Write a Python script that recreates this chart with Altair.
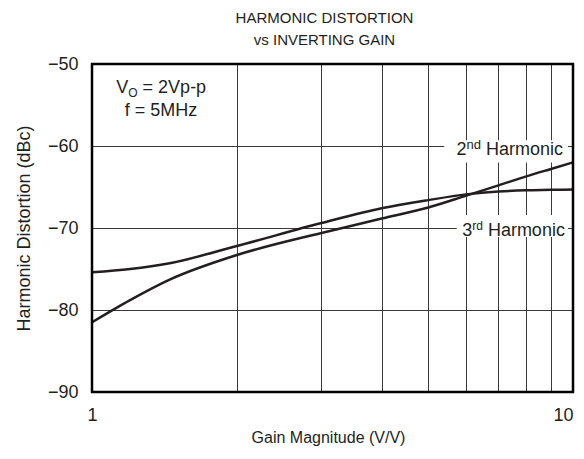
import altair as alt
import pandas as pd

# ---- data ----
gain = [1, 1.2, 1.45, 2, 3, 4, 5, 6, 7, 8, 9, 10]
second_harmonic = [-81.5, -78.8, -76.3, -73.3, -70.6, -68.85, -67.5, -66.05, -64.8, -63.7, -62.8, -62.0]
third_harmonic = [-75.4, -75.0, -74.3, -72.2, -69.4, -67.6, -66.6, -65.9, -65.55, -65.4, -65.35, -65.3]

x_ticks = [1, 2, 3, 4, 5, 6, 7, 8, 9, 10]
y_ticks = [-90, -80, -70, -60, -50]
title_lines = ["HARMONIC DISTORTION", "vs INVERTING GAIN"]
x_title = "Gain Magnitude (V/V)"
y_title = "Harmonic Distortion (dBc)"

FONT = "Liberation Sans"
FS = 18
SUB = 12
INK = "#231f20"

curves = pd.DataFrame({
    "g": gain * 2,
    "db": second_harmonic + third_harmonic,
    "series": ["2nd"] * len(gain) + ["3rd"] * len(gain),
})

xs = alt.Scale(type="log", domain=[1, 10], nice=False)
ys = alt.Scale(domain=[-90, -50], nice=False, zero=False)

x_axis = alt.Axis(
    values=x_ticks, grid=True, title=x_title, titleFontSize=16, titleX=236,
    labelExpr="(datum.value == 1 || datum.value == 10) ? '' + datum.value : ''",
    labelOffset={"condition": {"test": "datum.value == 10", "value": -10}, "value": 0},
    labelPadding=14, titlePadding=5, labelFlush=False)
y_axis = alt.Axis(
    values=y_ticks, grid=True, title=y_title,
    labelExpr="datum.value < 0 ? '\u2212' + abs(datum.value) : '' + datum.value",
    labelPadding=14, titlePadding=14)

X = alt.X("g:Q", scale=xs, axis=x_axis)
Y = alt.Y("db:Q", scale=ys, axis=y_axis)

lines = alt.Chart(curves).mark_line(color=INK, strokeWidth=2.5, interpolate="monotone").encode(
    x=X, y=Y, detail="series:N",
)

# white boxes behind the curve labels (they break the grid lines)
boxes = pd.DataFrame({
    "g": [5.4, 5.73], "g2": [9.76, 9.76],
    "db": [-59.3, -68.4], "db2": [-62.0, -71.1],
})
box_layer = alt.Chart(boxes).mark_rect(fill="white").encode(
    x=X, x2="g2:Q", y=Y, y2="db2:Q",
)

def txt(df, **kw):
    return alt.Chart(df).mark_text(font=FONT, color=INK, baseline="middle", **kw).encode(
        x=X, y=Y, text="t:N",
    )

# curve labels (right aligned pieces)
lab_main = pd.DataFrame({"g": [9.53, 9.62], "db": [-60.5, -70.4], "t": ["Harmonic", "Harmonic"]})
lab_2 = pd.DataFrame({"g": [9.53], "db": [-60.5], "t": ["nd"]})
lab_2n = pd.DataFrame({"g": [9.53], "db": [-60.5], "t": ["2"]})
lab_3 = pd.DataFrame({"g": [9.62], "db": [-70.4], "t": ["rd"]})
lab_3n = pd.DataFrame({"g": [9.62], "db": [-70.4], "t": ["3"]})

cond_pt = {"g": [1.392], "db": [-52.93]}
cond_v = pd.DataFrame({**cond_pt, "t": ["V"]})
cond_o = pd.DataFrame({**cond_pt, "t": ["O"]})
cond_r = pd.DataFrame({**cond_pt, "t": ["= 2Vp-p"]})
cond_f = pd.DataFrame({"g": [1.392], "db": [-55.73], "t": ["f = 5MHz"]})

frame = pd.DataFrame({"g": [1], "g2": [10], "db": [-90], "db2": [-50]})
frame_layer = alt.Chart(frame).mark_rect(filled=False, stroke="black", strokeWidth=2.5).encode(
    x=X, x2="g2:Q", y=Y, y2="db2:Q",
)

layers = [
    box_layer,
    lines,
    txt(lab_main, fontSize=FS, align="right"),
    txt(lab_2, fontSize=13, align="right", dx=-82, dy=-5),
    txt(lab_2n, fontSize=FS, align="right", dx=-96.5),
    txt(lab_3, fontSize=SUB, align="right", dx=-82, dy=-5),
    txt(lab_3n, fontSize=FS, align="right", dx=-92.7),
    txt(cond_v, fontSize=FS, align="left", dx=-44.9),
    txt(cond_o, fontSize=SUB, align="left", dx=-32.9, dy=5),
    txt(cond_r, fontSize=FS, align="left", dx=-18.5),
    txt(cond_f, fontSize=FS, align="center"),
    frame_layer,
]

chart = alt.layer(*layers).properties(
    width=481, height=328,
    title=alt.TitleParams(text=title_lines, font=FONT, fontSize=15, fontWeight="normal",
                          color=INK, lineHeight=22, offset=7, anchor="middle", dx=-8),
    autosize=alt.AutoSizeParams(type="none"),
    padding={"left": 84, "top": 56, "right": 3, "bottom": 54},
).configure_view(stroke=None).configure_axis(
    labelFont=FONT, titleFont=FONT, labelFontSize=FS, titleFontSize=FS,
    labelColor=INK, titleColor=INK, titleFontWeight="normal",
    ticks=False, domain=False, gridColor="#3a3a3a", gridWidth=1, gridOpacity=1,
)

chart.save("out.html", embed_options={"renderer": "svg", "actions": False})
